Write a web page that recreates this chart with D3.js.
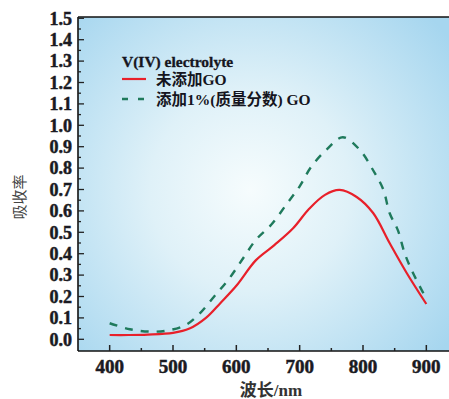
<!DOCTYPE html>
<html><head><meta charset="utf-8">
<script src="https://cdn.jsdelivr.net/npm/d3@7"></script>
<style>body{margin:0;background:#fff}svg{display:block}</style>
</head><body>
<script>
// Data
const wavelength = [400, 430, 460, 500, 526, 552, 575, 600, 631, 660, 690, 715, 740, 763, 790, 816, 842, 869, 900];
const noGO = [0.02, 0.02, 0.022, 0.03, 0.05, 0.10, 0.17, 0.25, 0.37, 0.44, 0.52, 0.61, 0.675, 0.698, 0.665, 0.59, 0.45, 0.31, 0.165];
const wavelength2 = [400, 432, 463, 489, 520, 542, 565, 589, 611, 631, 655, 679, 700, 718, 742, 768, 795, 816, 832, 842, 855, 866, 879, 898];
const withGO = [0.075, 0.047, 0.036, 0.04, 0.067, 0.12, 0.20, 0.285, 0.38, 0.465, 0.535, 0.63, 0.715, 0.805, 0.885, 0.944, 0.885, 0.79, 0.70, 0.59, 0.51, 0.40, 0.31, 0.20];
const xTicks = [400, 500, 600, 700, 800, 900];
const yTicks = [0.0,0.1,0.2,0.3,0.4,0.5,0.6,0.7,0.8,0.9,1.0,1.1,1.2,1.3,1.4,1.5];
const legendTitle = "V(IV) electrolyte";
const seriesNames = ["未添加GO", "添加1%(质量分数) GO"];
const xLabel = "波长/nm";
const yLabel = "吸收率";

const W = 449, H = 399;
const svg = d3.select("body").append("svg").attr("width", W).attr("height", H);
const x = d3.scaleLinear().domain([350, 950]).range([78, 458]);
const y = d3.scaleLinear().domain([0, 1.5]).range([339.3, 18.3]);
const pL = 78, pT = 17, pB = 351, pR = 460;

const defs = svg.append("defs");
const grad = defs.append("radialGradient").attr("id","bg").attr("gradientUnits","userSpaceOnUse")
  .attr("cx", 250).attr("cy", 190).attr("r", 250);
grad.append("stop").attr("offset","0%").attr("stop-color","#f6fcfd");
grad.append("stop").attr("offset","40%").attr("stop-color","#dff1f8");
grad.append("stop").attr("offset","100%").attr("stop-color","#a6d6ef");
svg.append("rect").attr("x", pL).attr("y", pT).attr("width", pR-pL).attr("height", pB-pT).attr("fill","url(#bg)");

// axes
const ax = svg.append("g").attr("stroke","#111").attr("stroke-width",1.6).attr("fill","none");
ax.append("line").attr("x1",pL).attr("x2",pL).attr("y1",pT).attr("y2",pB);
ax.append("line").attr("x1",pL).attr("x2",pR).attr("y1",pT).attr("y2",pT);
ax.append("line").attr("x1",pL).attr("x2",pR).attr("y1",pB).attr("y2",pB);

const yMinor = d3.range(0, 1.5001, 0.05);
svg.append("g").selectAll("line").data(yMinor).join("line")
  .attr("x1", pL).attr("x2", (d,i)=> pL + (i%2===0 ? 6 : 3))
  .attr("y1", d=>y(d)).attr("y2", d=>y(d)).attr("stroke","#222").attr("stroke-width",1.3);
const xMinor = d3.range(400, 901, 50);
svg.append("g").selectAll("line").data(xMinor).join("line")
  .attr("x1", d=>x(d)).attr("x2", d=>x(d))
  .attr("y1", pB).attr("y2", (d,i)=> pB - (i%2===0 ? 6 : 3)).attr("stroke","#222").attr("stroke-width",1.5);

svg.append("g").selectAll("text").data(yTicks).join("text")
  .attr("x", 72).attr("y", d=>y(d)).attr("dy","0.35em").attr("text-anchor","end")
  .attr("font-family","Liberation Serif, serif").attr("font-weight","bold").attr("font-size",18)
  .attr("fill","#1a1a22").attr("stroke","#1a1a22").attr("stroke-width",0.5).text(d=>d.toFixed(1));
svg.append("g").selectAll("text").data(xTicks).join("text")
  .attr("x", d=>x(d)).attr("y", 373).attr("text-anchor","middle")
  .attr("font-family","Liberation Serif, serif").attr("font-weight","bold").attr("font-size",19)
  .attr("fill","#1a1a22").attr("stroke","#1a1a22").attr("stroke-width",0.5).text(d=>d);

svg.append("text").attr("x", 271).attr("y", 396).attr("text-anchor","middle")
  .attr("font-family","Liberation Serif, 'Noto Sans CJK SC', serif").attr("font-weight","bold").attr("font-size",17)
  .attr("fill","#333").text(xLabel);
svg.append("text").attr("transform","translate(25,197) rotate(-90)").attr("text-anchor","middle")
  .attr("font-family","'Noto Sans CJK SC', serif").attr("font-size",15)
  .attr("fill","#444").text(yLabel);

const line = d3.line().x(d=>x(d[0])).y(d=>y(d[1])).curve(d3.curveCatmullRom);
svg.append("path").attr("d", line(wavelength.map((w,i)=>[w,noGO[i]])))
  .attr("fill","none").attr("stroke","#e8202a").attr("stroke-width",2.2);
svg.append("path").attr("d", line(wavelength2.map((w,i)=>[w,withGO[i]])))
  .attr("fill","none").attr("stroke","#1f7a5c").attr("stroke-width",2.4).attr("stroke-dasharray","8,8");

// legend
const lg = svg.append("g").attr("font-family","Liberation Serif, 'Noto Sans CJK SC', serif").attr("font-weight","bold").attr("fill","#151520");
lg.append("text").attr("x",122).attr("y",67).attr("font-size",15.5).attr("stroke","#151520").attr("stroke-width",0.3).text(legendTitle);
lg.append("line").attr("x1",122).attr("x2",146).attr("y1",79).attr("y2",79).attr("stroke","#e8202a").attr("stroke-width",2.2);
lg.append("text").attr("x",156).attr("y",84.5).attr("font-size",15.5).text(seriesNames[0]);
lg.append("line").attr("x1",122).attr("x2",146).attr("y1",99).attr("y2",99).attr("stroke","#1f7a5c").attr("stroke-width",2.4).attr("stroke-dasharray","6,10");
lg.append("text").attr("x",156).attr("y",104.5).attr("font-size",15.5).text(seriesNames[1]);
</script>
</body></html>
